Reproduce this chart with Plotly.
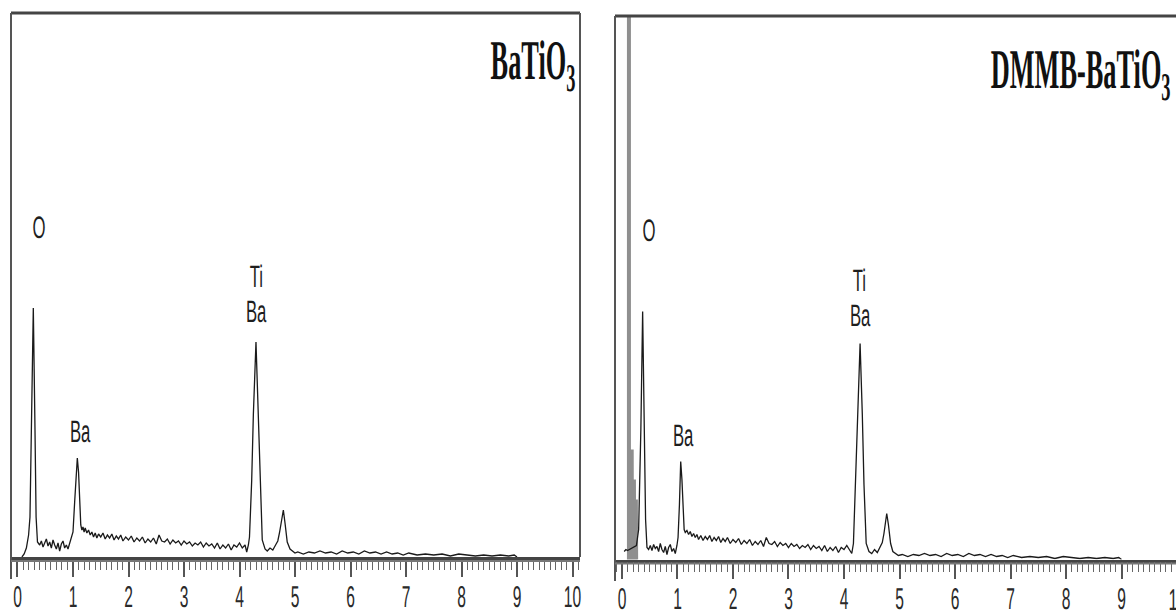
import json
import plotly.graph_objects as go

# ---------------- data (energy keV, intensity a.u.) ----------------
e_left = [0.08, 0.12, 0.16, 0.20, 0.225, 0.255, 0.285, 0.315, 0.335, 0.36, 0.40, 0.43, 0.46, 0.49, 0.52,
          0.55, 0.58, 0.61, 0.64, 0.67, 0.70, 0.73, 0.76, 0.79, 0.82, 0.85, 0.88, 0.91, 0.94, 0.97,
          1.00, 1.03, 1.06, 1.078, 1.10, 1.12, 1.14, 1.16, 1.18, 1.20, 1.22, 1.25, 1.28, 1.31, 1.34,
          1.37, 1.40, 1.43, 1.46, 1.50, 1.54, 1.58, 1.62, 1.66, 1.70, 1.74, 1.78, 1.82, 1.86, 1.90,
          1.95, 2.00, 2.05, 2.10, 2.15, 2.20, 2.25, 2.30, 2.35, 2.40, 2.45, 2.50, 2.55, 2.60, 2.65,
          2.70, 2.75, 2.80, 2.85, 2.90, 2.95, 3.00, 3.05, 3.10, 3.15, 3.20, 3.25, 3.30, 3.35, 3.40,
          3.45, 3.50, 3.55, 3.60, 3.65, 3.70, 3.75, 3.80, 3.85, 3.90, 3.95, 4.00, 4.05, 4.10, 4.13,
          4.16, 4.18, 4.22, 4.25, 4.297, 4.34, 4.37, 4.41, 4.46, 4.50, 4.55, 4.60, 4.65, 4.69, 4.72,
          4.76, 4.79, 4.82, 4.86, 4.91, 4.95, 5.00, 5.05, 5.15, 5.25, 5.35, 5.45, 5.55, 5.65, 5.75,
          5.85, 5.95, 6.05, 6.15, 6.25, 6.35, 6.45, 6.55, 6.65, 6.75, 6.85, 6.95, 7.05, 7.20, 7.35,
          7.50, 7.65, 7.80, 7.95, 8.10, 8.25, 8.40, 8.55, 8.70, 8.85, 8.95, 9.00]
i_left = [0, 3, 9, 22, 40, 130, 249, 128, 40, 15, 12, 16, 10, 14, 18,
          11, 15, 9, 17, 12, 8, 14, 6, 13, 16, 9, 12, 8, 14, 18,
          25, 55, 85, 99, 85, 60, 32, 27, 30, 25, 29, 24, 27, 22, 25,
          20, 24, 19, 23, 20, 24, 18, 22, 19, 23, 17, 21, 18, 22, 16,
          20, 17, 21, 15, 19, 16, 20, 14, 18, 15, 19, 13, 22, 16, 15,
          18, 13, 17, 14, 16, 12, 16, 13, 15, 11, 14, 12, 15, 10, 14,
          11, 13, 9, 14, 8, 12, 9, 13, 7, 12, 10, 14, 9, 12, 5,
          12, 20, 77, 143, 215, 143, 77, 17, 8, 6, 9, 7, 12, 16, 24,
          37, 47, 34, 15, 8, 6, 4, 5, 3, 5, 4, 6, 4, 5, 3,
          6, 4, 5, 3, 6, 4, 5, 3, 5, 3, 4, 2, 4, 2, 3,
          2, 3, 1, 3, 2, 1, 2, 1, 2, 1, 2, 0]

e_right = [0.04, 0.07, 0.10, 0.26, 0.30, 0.315, 0.34, 0.372, 0.40, 0.425, 0.45, 0.48, 0.51, 0.54, 0.57,
           0.60, 0.63, 0.66, 0.69, 0.72, 0.75, 0.78, 0.81, 0.84, 0.87, 0.90, 0.93, 0.96, 0.99,
           1.01, 1.035, 1.058, 1.08, 1.10, 1.12, 1.14, 1.17, 1.20, 1.23, 1.26, 1.29, 1.32, 1.35,
           1.38, 1.42, 1.46, 1.50, 1.54, 1.58, 1.62, 1.66, 1.70, 1.74, 1.78, 1.82, 1.86, 1.90,
           1.95, 2.00, 2.05, 2.10, 2.15, 2.20, 2.25, 2.30, 2.35, 2.40, 2.45, 2.50, 2.55, 2.60,
           2.65, 2.70, 2.75, 2.80, 2.85, 2.90, 2.95, 3.00, 3.05, 3.10, 3.15, 3.20, 3.25, 3.30,
           3.35, 3.40, 3.45, 3.50, 3.55, 3.60, 3.65, 3.70, 3.75, 3.80, 3.85, 3.90, 3.95, 4.00,
           4.05, 4.10, 4.14, 4.17, 4.21, 4.25, 4.29, 4.33, 4.36, 4.40, 4.45, 4.50, 4.55, 4.60,
           4.65, 4.69, 4.72, 4.75, 4.77, 4.80, 4.84, 4.88, 4.93, 4.98, 5.05, 5.15, 5.25, 5.35,
           5.45, 5.55, 5.65, 5.75, 5.85, 5.95, 6.05, 6.15, 6.25, 6.35, 6.45, 6.55, 6.65, 6.75,
           6.85, 6.95, 7.05, 7.20, 7.35, 7.50, 7.65, 7.80, 7.95, 8.10, 8.25, 8.40, 8.55, 8.70,
           8.85, 8.95, 9.00]
i_right = [8, 10, 9, 14, 30, 60, 130, 248, 130, 40, 12, 10, 14, 9, 15,
           11, 13, 8, 16, 10, 7, 13, 5, 12, 15, 8, 11, 6, 14,
           22, 55, 98, 80, 55, 30, 27, 29, 25, 28, 23, 26, 22, 25,
           20, 24, 19, 23, 20, 24, 18, 22, 19, 23, 17, 21, 18, 22,
           16, 20, 17, 21, 15, 19, 16, 20, 14, 18, 15, 19, 13, 22,
           16, 15, 18, 13, 17, 14, 16, 12, 16, 13, 15, 11, 14, 12,
           15, 10, 14, 11, 13, 9, 14, 8, 12, 9, 13, 7, 12, 10,
           14, 9, 6, 16, 80, 150, 216, 145, 75, 16, 8, 6, 10, 7,
           13, 17, 26, 38, 46, 35, 16, 8, 6, 4, 5, 3, 5, 4,
           6, 4, 5, 3, 6, 4, 5, 3, 6, 4, 5, 3, 5, 3,
           4, 2, 4, 2, 3, 2, 3, 1, 3, 2, 1, 2, 1, 2,
           1, 2, 0]

# off-scale low-energy noise peak in the DMMB-BaTiO3 spectrum
e_noise = [0.125, 0.125, 0.125, 0.17, 0.175, 0.18, 0.21, 0.215, 0.22, 0.245, 0.25, 0.255]
i_noise = [0, 700, 0, 0, 110, 0, 0, 80, 0, 0, 60, 0]

tick_vals = [0, 1, 2, 3, 4, 5, 6, 7, 8, 9, 10]
tick_text = ["0", "1", "2", "3", "4", "5", "6", "7", "8", "9", "10"]

# peak labels: (text, energy, intensity)
labels_left = [("O", 0.387, 330), ("Ba", 1.132, 126), ("Ti", 4.31, 281), ("Ba", 4.315, 246)]
labels_right = [("O", 0.486, 329), ("Ba", 1.105, 124), ("Ti", 4.28, 279), ("Ba", 4.306, 244)]

W, H = 1176, 613
def px(x):
    return x / W
def py(y):
    return 1 - y / H

fig = go.Figure()
line_col = "#1a1a1a"
fig.add_trace(go.Scatter(x=e_left, y=i_left, mode="lines", line=dict(color=line_col, width=1.3),
                         xaxis="x", yaxis="y", showlegend=False, hoverinfo="skip"))
fig.add_trace(go.Scatter(x=e_noise, y=i_noise, mode="lines", line=dict(color="#8f8f8f", width=4),
                         xaxis="x2", yaxis="y2", showlegend=False, hoverinfo="skip"))
fig.add_trace(go.Scatter(x=e_right, y=i_right, mode="lines", line=dict(color=line_col, width=1.3),
                         xaxis="x2", yaxis="y2", showlegend=False, hoverinfo="skip"))

sans = "Liberation Sans, Arial, sans-serif"
axis_common = dict(
    tickmode="array", tickvals=tick_vals, ticktext=tick_text,
    ticks="outside", ticklen=17, tickwidth=1.6, tickcolor="#555",
    showline=True, linecolor="#444", linewidth=2.5,
    showgrid=False, zeroline=False, automargin=False,
    minor=dict(dtick=0.1, ticks="outside", ticklen=10, tickwidth=1.2, tickcolor="#666", showgrid=False),
    tickfont=dict(family=sans, size=30, color="#2a2a2a"),
    ticklabelstandoff=-6,
    fixedrange=True,
)

fig.update_layout(
    width=W, height=H, margin=dict(l=0, r=0, t=0, b=0, autoexpand=False),
    paper_bgcolor="white", plot_bgcolor="white",
    xaxis=dict(domain=[px(11), px(580)], range=[-0.117, 10.135], anchor="y", **axis_common),
    yaxis=dict(domain=[py(557), py(13)], range=[0, 544], visible=False, fixedrange=True, automargin=False),
    xaxis2=dict(domain=[px(615), 1.0], range=[-0.126, 9.982], anchor="y2", **axis_common),
    yaxis2=dict(domain=[py(559.5), py(16)], range=[0, 543.5], visible=False, fixedrange=True, automargin=False),
)

frame_col = "#555"
shapes = [
    # left panel frame
    dict(type="line", xref="paper", yref="paper", x0=px(11), x1=px(580), y0=py(13), y1=py(13),
         line=dict(color="#444", width=3)),
    dict(type="line", xref="paper", yref="paper", x0=px(11), x1=px(11), y0=py(13), y1=py(579),
         line=dict(color=frame_col, width=2)),
    dict(type="line", xref="paper", yref="paper", x0=px(580), x1=px(580), y0=py(13), y1=py(557),
         line=dict(color=frame_col, width=2)),
    dict(type="line", xref="paper", yref="paper", x0=px(11), x1=px(580), y0=py(561), y1=py(561),
         line=dict(color="#777", width=2)),
    # right panel frame
    dict(type="line", xref="paper", yref="paper", x0=px(615), x1=1.0, y0=py(16), y1=py(16),
         line=dict(color="#444", width=3)),
    dict(type="line", xref="paper", yref="paper", x0=px(615), x1=px(615), y0=py(16), y1=py(581),
         line=dict(color=frame_col, width=2)),
    dict(type="line", xref="paper", yref="paper", x0=px(615), x1=1.0, y0=py(563.5), y1=py(563.5),
         line=dict(color="#777", width=2)),
]
fig.update_layout(shapes=shapes)

lab_font = dict(family=sans, size=31, color="#1e1e1e")
scales, modes = [], []
for t, e, v in labels_left:
    fig.add_annotation(x=e, y=v, xref="x", yref="y", text=t, showarrow=False, font=lab_font)
    scales.append(0.54); modes.append("c")
for t, e, v in labels_right:
    fig.add_annotation(x=e, y=v, xref="x2", yref="y2", text=t, showarrow=False, font=lab_font)
    scales.append(0.54); modes.append("c")

title_font = dict(family="Liberation Serif, Times New Roman, serif", size=56, color="#111", weight="bold")
fig.add_annotation(x=px(577), y=py(64), xref="paper", yref="paper", xanchor="right", yanchor="middle",
                   text="BaTiO<sub>3</sub>", showarrow=False, font=title_font)
scales.append(0.47); modes.append("r")
fig.add_annotation(x=px(1173), y=py(73), xref="paper", yref="paper", xanchor="right", yanchor="middle",
                   text="DMMB-BaTiO<sub>3</sub>", showarrow=False, font=title_font)
scales.append(0.47); modes.append("r")
# truncated "10" label at right edge of the second panel (x = 10 keV lies just past the window edge)
fig.add_annotation(x=px(622 + 10 * 55.5), y=py(599), xref="paper", yref="paper", xanchor="center",
                   yanchor="middle", text="10", showarrow=False, font=dict(family=sans, size=30, color="#2a2a2a"))
scales.append(0.55); modes.append("c")

post_js = """
document.body.style.margin = '0';
document.body.style.overflow = 'hidden';
var gd = document.querySelector('.plotly-graph-div');
var SC = %s;
var MD = %s;
function squeeze(el, s, mode) {
  var b = el.getBBox();
  var ox = (mode === 'r') ? (b.x + b.width) : (b.x + b.width / 2);
  var t = el.getAttribute('transform') || '';
  el.setAttribute('transform', t + ' translate(' + ox + ',0) scale(' + s + ',1) translate(' + (-ox) + ',0)');
  el.style.textRendering = 'geometricPrecision';
}
gd.querySelectorAll('g.xtick > text, g.x2tick > text').forEach(function (el) { squeeze(el, 0.52, 'c'); });
gd.querySelectorAll('g.annotation').forEach(function (g) {
  var i = parseInt(g.getAttribute('data-index'));
  var el = g.querySelector('text.annotation-text');
  if (el && !isNaN(i) && i < SC.length) { squeeze(el, SC[i], MD[i]); }
});
""" % (json.dumps(scales), json.dumps(modes))

fig.write_html("out.html", post_script=post_js, config={"displayModeBar": False})
